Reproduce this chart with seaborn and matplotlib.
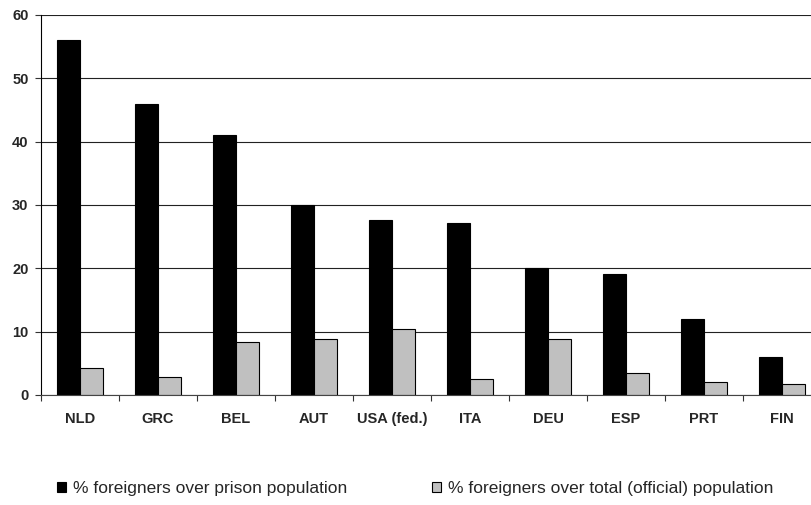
import numpy as np
import pandas as pd
import seaborn as sns
import matplotlib.pyplot as plt
from matplotlib.patches import Patch

# values
countries = ['NLD', 'GRC', 'BEL', 'AUT', 'USA (fed.)', 'ITA', 'DEU', 'ESP', 'PRT', 'FIN']
prison_share = [56, 46, 41, 30, 27.6, 27.1, 20, 19.1, 12, 6]
total_share = [4.2, 2.8, 8.4, 8.8, 10.4, 2.5, 8.9, 3.4, 2.1, 1.8]
series_names = ['% foreigners over prison population',
                '% foreigners over total (official) population']
y_ticks = [0, 10, 20, 30, 40, 50, 60]

df = pd.DataFrame({
    'country': countries * 2,
    'value': prison_share + total_share,
    'series': [series_names[0]] * len(countries) + [series_names[1]] * len(countries),
})

sns.set_style('white')
plt.rcParams['font.family'] = ['Liberation Sans', 'DejaVu Sans']

colors = ['black', '#C0C0C0']

fig = plt.figure(figsize=(8.12, 5.05), dpi=100)
# axes runs slightly past the right edge, as in the original
ax = fig.add_axes([41 / 812, 110 / 505, 780 / 812, 380 / 505])

sns.barplot(data=df, x='country', y='value', hue='series', palette=colors,
            width=0.59, gap=0, saturation=1, edgecolor='black', linewidth=0.8,
            legend=False, ax=ax)

ax.set_axisbelow(True)
ax.set_ylim(0, 60)
ax.set_xlim(-0.5, len(countries) - 0.5)
ax.set_yticks(y_ticks)
ax.yaxis.grid(True, color='#222222', linewidth=0.8)
ax.xaxis.grid(False)
ax.set_xlabel('')
ax.set_ylabel('')

# tick marks between the categories, labels at the centres
ax.set_xticks(np.arange(len(countries)))
ax.set_xticklabels(countries, fontweight='bold', fontsize=10.5)
ax.set_xticks(np.arange(-0.5, len(countries), 1), minor=True)
ax.tick_params(axis='x', which='major', length=0, pad=12)
ax.tick_params(axis='x', which='minor', length=4, width=0.8, color='#333333', direction='out', bottom=True)
ax.tick_params(axis='y', length=4, width=0.8, color='#333333', direction='out', left=True, pad=5)
for lab in ax.get_yticklabels():
    lab.set_fontweight('bold')
    lab.set_fontsize(10.5)

for side in ['top', 'right']:
    ax.spines[side].set_visible(False)
ax.spines['left'].set_color('black')
ax.spines['left'].set_linewidth(0.8)
ax.spines['bottom'].set_color('#444444')
ax.spines['bottom'].set_linewidth(0.8)

handles = [Patch(facecolor=c, edgecolor='black', linewidth=0.8) for c in colors]
fig.legend(handles, series_names, loc='center left', ncol=2,
           bbox_to_anchor=(57 / 812, 1 - 489 / 505), frameon=False,
           fontsize=12.5, handlelength=0.52, handleheight=0.52, handletextpad=0.4,
           columnspacing=4.9, borderpad=0, borderaxespad=0)

fig.savefig('out.png', dpi=100)
